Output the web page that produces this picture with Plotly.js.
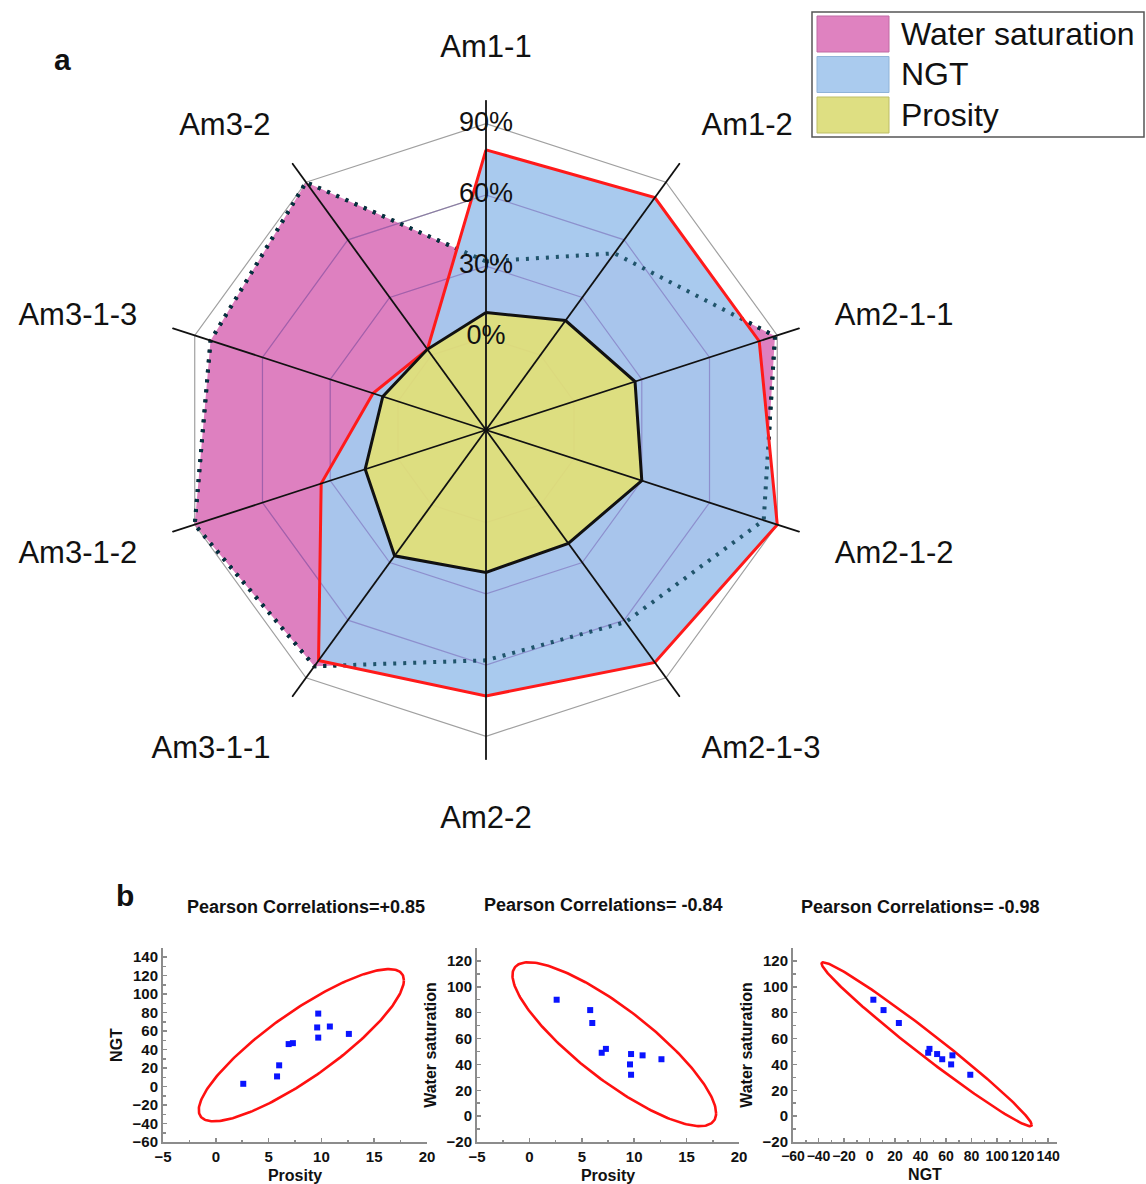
<!DOCTYPE html>
<html><head><meta charset="utf-8">
<script src="https://cdn.plot.ly/plotly-3.0.1.min.js"></script>
<style>html,body{margin:0;padding:0;background:#fff}#chart{width:1146px;height:1184px}</style>
</head><body><div id="chart"></div>
<script>
// ---------- radar (a) ----------
const wells = ['Am1-1','Am1-2','Am2-1-1','Am2-1-2','Am2-1-3','Am2-2','Am3-1-1','Am3-1-2','Am3-1-3','Am3-2'];
const waterSaturation = [32, 53, 89, 84, 61, 58, 84, 90, 83, 90];
const ngtRadar = [79, 82, 82, 90, 82, 73, 81, 34, 11, 3];
const prosityRadar = [10.5, 18, 27, 30, 20, 21, 26.5, 14.5, 6.7, 3];
const radialTicks = [0, 30, 60, 90];
const radialTickText = ['0%', '30%', '60%', '90%'];
const seriesNames = ['Water saturation', 'NGT', 'Prosity'];

// ---------- scatter samples (b) ----------
const sampleProsity = [2.6, 5.8, 6.0, 6.9, 7.3, 9.6, 9.7, 9.7, 10.8, 12.6];
const sampleNGT     = [3, 11, 23, 46, 47, 64, 79, 53, 65, 57];
const sampleWS      = [90, 82, 72, 49, 52, 40, 32, 48, 47, 44];
const correlationTitles = ['Pearson Correlations=+0.85', 'Pearson Correlations= -0.84', 'Pearson Correlations= -0.98'];

// ---------- styles ----------
const W = 1146, H = 1184;
const FONT = 'Liberation Sans, Arial, sans-serif';
const radialRange = [-39, 100];
const fillColors = ['rgba(214,96,176,0.8)', 'rgba(166,200,237,0.96)', 'rgba(226,224,118,0.92)'];
const swatchColors = ['#df82c0', '#aacbee', '#dedf82'];
const swatchBorders = ['#c06aa4', '#8fb3d8', '#bdbd66'];

function closeLoop(a) { return a.concat([a[0]]); }
const base = {type: 'scatterpolar', subplot: 'polar', showlegend: false, hoverinfo: 'skip', cliponaxis: true};
const traces = [];

// 1. water saturation: fill + black dotted outline
traces.push(Object.assign({}, base, {name: seriesNames[0], r: closeLoop(waterSaturation), theta: closeLoop(wells),
  mode: 'lines', fill: 'toself', fillcolor: fillColors[0], line: {color: '#111', width: 4, dash: '3px,7px'}}));
// 2. NGT fill
traces.push(Object.assign({}, base, {name: seriesNames[1], r: closeLoop(ngtRadar), theta: closeLoop(wells),
  mode: 'lines', fill: 'toself', fillcolor: fillColors[1], line: {color: 'rgba(0,0,0,0)', width: 0}}));
// 3. grid polygons seen through the fills
const gR = [], gT = [];
radialTicks.slice(0, 3).forEach(t => { wells.forEach(w => { gR.push(t); gT.push(w); }); gR.push(t, null); gT.push(wells[0], wells[0]); });
traces.push(Object.assign({}, base, {r: gR, theta: gT, mode: 'lines', connectgaps: false,
  line: {color: 'rgba(110,80,170,0.45)', width: 1.2}}));
// 4. water saturation outline seen through NGT fill
traces.push(Object.assign({}, base, {r: closeLoop(waterSaturation), theta: closeLoop(wells), mode: 'lines',
  line: {color: 'rgba(0,58,78,0.8)', width: 4, dash: '3px,7px'}}));
// 5. NGT red outline
traces.push(Object.assign({}, base, {r: closeLoop(ngtRadar), theta: closeLoop(wells), mode: 'lines',
  line: {color: '#ff1a1a', width: 3}}));
// 6. Prosity
traces.push(Object.assign({}, base, {name: seriesNames[2], r: closeLoop(prosityRadar), theta: closeLoop(wells),
  mode: 'lines', fill: 'toself', fillcolor: fillColors[2], line: {color: '#111', width: 3}}));
// 7. spokes
const spokeR = [], spokeT = [];
wells.forEach(w => { spokeR.push(radialRange[0], radialRange[1], null); spokeT.push(w, w, w); });
traces.push(Object.assign({}, base, {r: spokeR, theta: spokeT, mode: 'lines', connectgaps: false,
  line: {color: '#111', width: 1.8}}));
// 8. radial tick labels
traces.push(Object.assign({}, base, {r: radialTicks, theta: radialTicks.map(() => wells[0]),
  mode: 'text', text: radialTickText, textposition: 'middle center',
  textfont: {family: FONT, size: 27, color: '#111'}}));

// ---------- prediction ellipse from data ----------
function predictionEllipse(xs, ys) {
  const n = xs.length;
  const mx = xs.reduce((a, b) => a + b, 0) / n;
  const my = ys.reduce((a, b) => a + b, 0) / n;
  let sxx = 0, syy = 0, sxy = 0;
  for (let i = 0; i < n; i++) {
    sxx += (xs[i] - mx) ** 2; syy += (ys[i] - my) ** 2; sxy += (xs[i] - mx) * (ys[i] - my);
  }
  sxx /= (n - 1); syy /= (n - 1); sxy /= (n - 1);
  const df2 = n - 2;
  const F = (df2 / 2) * (Math.pow(0.05, -2 / df2) - 1); // F(0.95; 2, n-2)
  const k = Math.sqrt(2 * (n - 1) * (n + 1) / (n * (n - 2)) * F);
  const a = Math.sqrt(sxx), b = sxy / a, c = Math.sqrt(Math.max(syy - b * b, 0));
  const ex = [], ey = [];
  for (let j = 0; j <= 240; j++) {
    const t = 2 * Math.PI * j / 240;
    ex.push(mx + k * a * Math.cos(t));
    ey.push(my + k * (b * Math.cos(t) + c * Math.sin(t)));
  }
  return {ex, ey};
}

const pairs = [[sampleProsity, sampleNGT], [sampleProsity, sampleWS], [sampleNGT, sampleWS]];
pairs.forEach((p, i) => {
  const ax = i === 0 ? '' : String(i + 1);
  const el = predictionEllipse(p[0], p[1]);
  traces.push({type: 'scatter', x: el.ex, y: el.ey, xaxis: 'x' + ax, yaxis: 'y' + ax, mode: 'lines',
    line: {color: '#ff1010', width: 2.6}, showlegend: false, hoverinfo: 'skip', cliponaxis: false});
  traces.push({type: 'scatter', x: p[0], y: p[1], xaxis: 'x' + ax, yaxis: 'y' + ax, mode: 'markers',
    marker: {symbol: 'square', size: 6, color: '#0a14ff'}, showlegend: false});
});

// ---------- layout ----------
const px = v => v / W, py = v => 1 - v / H;
const tickFont = {family: FONT, size: 15, color: '#111', weight: 'bold'};
const titleFont = {family: FONT, size: 16, color: '#111', weight: 'bold'};
function axis(dom, range, dtick, minor, title, anchor) {
  return {domain: dom, range: range, dtick: dtick, tick0: 0, showgrid: false, zeroline: false, anchor: anchor,
    showline: true, linecolor: '#8c8c8c', linewidth: 2, ticks: 'inside', ticklen: 4, tickwidth: 1.5, tickcolor: '#8c8c8c',
    minor: {dtick: minor, ticks: 'inside', ticklen: 2.5, tickcolor: '#8c8c8c', showgrid: false},
    tickangle: 0, tickfont: tickFont, title: {text: title, font: titleFont, standoff: 6}, fixedrange: true};
}
const yDom = [1 - 1142 / H, 1 - 948 / H];
const xDoms = [[px(163), px(427)], [px(477), px(739)], [px(793), px(1057)]];

const annotations = [
  {text: 'a', x: px(62), y: py(60), xref: 'paper', yref: 'paper', showarrow: false, xanchor: 'center', yanchor: 'middle',
   font: {family: FONT, size: 30, color: '#111', weight: 'bold'}},
  {text: 'b', x: px(125), y: py(895), xref: 'paper', yref: 'paper', showarrow: false, xanchor: 'center', yanchor: 'middle',
   font: {family: FONT, size: 30, color: '#111', weight: 'bold'}}
];
const titleCenters = [[306, 907], [603, 905], [920, 907]];
correlationTitles.forEach((t, i) => {
  annotations.push({text: t, x: px(titleCenters[i][0]), y: py(titleCenters[i][1]), xref: 'paper', yref: 'paper',
    showarrow: false, xanchor: 'center', yanchor: 'middle', font: {family: FONT, size: 18, color: '#111', weight: 'bold'}});
});

// custom legend
const shapes = [{type: 'rect', xref: 'paper', yref: 'paper', x0: px(812), x1: px(1144), y0: py(137), y1: py(12),
  line: {color: '#555', width: 1.5}, fillcolor: 'rgba(0,0,0,0)'}];
seriesNames.forEach((name, i) => {
  const top = 16 + i * 40.5;
  shapes.push({type: 'rect', xref: 'paper', yref: 'paper', x0: px(817), x1: px(889), y0: py(top + 36), y1: py(top),
    fillcolor: swatchColors[i], line: {color: swatchBorders[i], width: 1}});
  annotations.push({text: name, x: px(899), y: py(top + 18), xref: 'paper', yref: 'paper', showarrow: false,
    xanchor: 'left', yanchor: 'middle', font: {family: FONT, size: 32, color: '#111'}});
});

const xaxis3 = axis(xDoms[2], [-60, 147], 20, 10, 'NGT', 'y3');
xaxis3.tickfont = Object.assign({}, tickFont, {size: 14});

const layout = {
  width: W, height: H, autosize: false, margin: {l: 0, r: 0, t: 0, b: 0},
  paper_bgcolor: '#fff', plot_bgcolor: '#fff', showlegend: false,
  polar: {
    domain: {x: [px(156), px(816)], y: [py(760), py(100)]},
    bgcolor: '#fff', gridshape: 'linear',
    radialaxis: {range: radialRange, tickvals: radialTicks, showticklabels: false, ticks: '', showline: false,
      gridcolor: '#a0a0a0', gridwidth: 1.2, angle: 90},
    angularaxis: {type: 'category', categoryarray: wells, rotation: 90, direction: 'clockwise',
      showgrid: false, showline: false, ticks: 'outside', ticklen: 30, tickcolor: 'rgba(0,0,0,0)',
      tickfont: {family: FONT, size: 31, color: '#111'}}
  },
  xaxis: axis(xDoms[0], [-5, 20], 5, 2.5, 'Prosity', 'y'),
  yaxis: axis(yDom, [-60, 150], 20, 10, 'NGT', 'x'),
  xaxis2: axis(xDoms[1], [-5, 20], 5, 2.5, 'Prosity', 'y2'),
  yaxis2: axis(yDom, [-20, 130], 20, 10, 'Water saturation', 'x2'),
  xaxis3: xaxis3,
  yaxis3: axis(yDom, [-20, 130], 20, 10, 'Water saturation', 'x3'),
  annotations: annotations, shapes: shapes
};

Plotly.newPlot('chart', traces, layout, {displayModeBar: false, staticPlot: true});
</script></body></html>
